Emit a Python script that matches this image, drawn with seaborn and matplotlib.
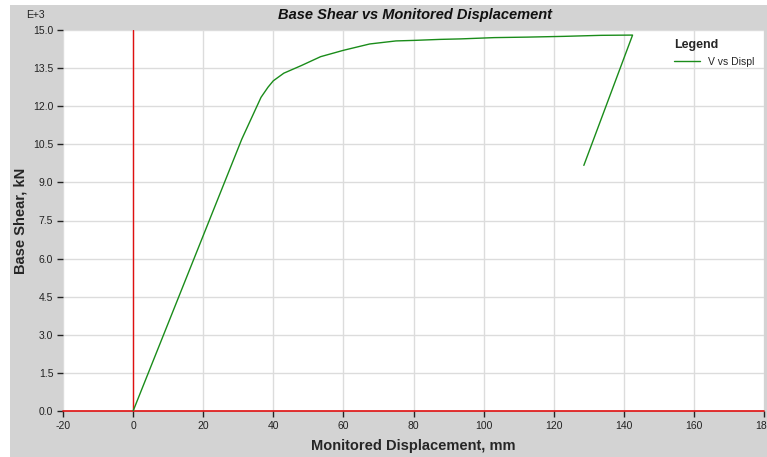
import numpy as np
import pandas as pd
import matplotlib
matplotlib.use("Agg")
import matplotlib.pyplot as plt
import seaborn as sns
from matplotlib.patches import Rectangle

sns.set_theme(style="white")
plt.rcParams['font.family'] = ['Liberation Sans', 'DejaVu Sans']

# pushover curve, displacement in mm and base shear in kN (E+3)
displ = [0.0, 31.0, 36.5, 38.5, 40.0, 43.0, 48.0, 53.5, 60.0, 67.5, 75.0, 80.0,
         87.5, 93.5, 103.0, 112.5, 123.0, 133.5, 142.5, 128.6]
shear = [0.0, 10.70, 12.35, 12.75, 13.00, 13.30, 13.60, 13.95, 14.20, 14.45, 14.57,
         14.59, 14.63, 14.65, 14.70, 14.72, 14.75, 14.79, 14.80, 9.67]
xticks = [-20, 0, 20, 40, 60, 80, 100, 120, 140, 160, 180]
yticks = [0.0, 1.5, 3.0, 4.5, 6.0, 7.5, 9.0, 10.5, 12.0, 13.5, 15.0]

df = pd.DataFrame({'Displ': displ, 'Shear': shear})

W, H = 767, 457
fig = plt.figure(figsize=(W / 100, H / 100), dpi=100, facecolor='white')
# grey panel behind everything
fig.patches.append(Rectangle((10 / W, 0), 1 - 10 / W, (H - 5) / H,
                             transform=fig.transFigure, facecolor='#d3d3d3',
                             edgecolor='none', zorder=-10))

ax = fig.add_axes([63 / W, (H - 411) / H, (764 - 63) / W, (411 - 30) / H])
ax.set_facecolor('white')

sns.lineplot(data=df, x='Displ', y='Shear', sort=False, estimator=None,
             color='#1a8c1a', linewidth=1.0, label='V vs Displ', ax=ax, zorder=3)

ax.set_xlim(-20, 180)
ax.set_ylim(0, 15)
ax.set_xticks(xticks)
ax.set_yticks(yticks)
ax.set_xticklabels([str(t) for t in xticks], fontsize=7.5, color='#222222')
ax.set_yticklabels([f'{t:.1f}' for t in yticks], fontsize=7.5, color='#222222')
ax.tick_params(axis='both', which='both', direction='out', length=4, width=1,
               color='#222222', bottom=True, left=True, pad=3)
ax.grid(True, color='#dcdcdc', linewidth=1.0, zorder=0)
for s in ax.spines.values():
    s.set_visible(False)

ax.axvline(0, color='#e01010', linewidth=1.0, zorder=2)
ax.axhline(0, color='#e01010', linewidth=1.2, zorder=2, clip_on=False)

ax.set_xlabel('Monitored Displacement, mm', fontsize=10.5, fontweight='bold',
              labelpad=6)
ax.set_ylabel('Base Shear, kN', fontsize=10.5, fontweight='bold', labelpad=4)

fig.text(415 / W, 1 - 15 / H, 'Base Shear vs Monitored Displacement',
         ha='center', va='center', fontsize=10.5, fontweight='bold',
         fontstyle='italic', color='#111111')
fig.text(35 / W, 1 - 15 / H, 'E+3', ha='center', va='center', fontsize=7.5,
         color='#222222')

leg = ax.legend(loc='upper right', bbox_to_anchor=(1.0, 1.0), frameon=False,
                title='Legend', fontsize=7.5, handlelength=2.5,
                alignment='left')
leg.get_title().set_fontweight('bold')
leg.get_title().set_fontsize(9)
for line in leg.get_lines():
    line.set_color('#1a8c1a')

fig.savefig('out.png', dpi=100, facecolor='white')
